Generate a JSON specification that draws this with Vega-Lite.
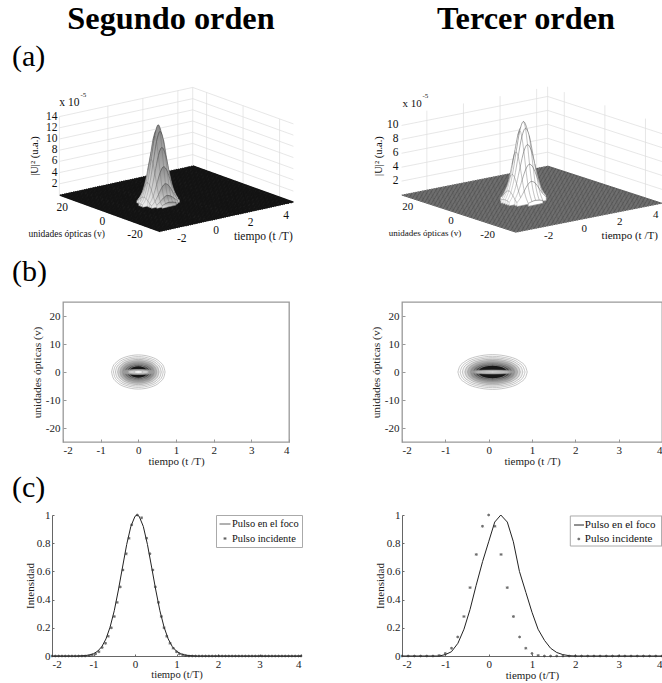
{"$schema":"https://vega.github.io/schema/vega-lite/v6.json","padding":0,"background":"#ffffff","config":{"font":"Liberation Serif","view":{"stroke":null},"text":{"color":"#111"},"title":{"color":"#000"}},
"datasets":{
"floorT":[{"t":-3.375},{"t":-3.25},{"t":-3.125},{"t":-3},{"t":-2.875},{"t":-2.75},{"t":-2.625},{"t":-2.5},{"t":-2.375},{"t":-2.25},{"t":-2.125},{"t":-2},{"t":-1.875},{"t":-1.75},{"t":-1.625},{"t":-1.5},{"t":-1.375},{"t":-1.25},{"t":-1.125},{"t":-1},{"t":-0.875},{"t":-0.75},{"t":-0.625},{"t":-0.5},{"t":-0.375},{"t":-0.25},{"t":-0.125},{"t":0},{"t":0.125},{"t":0.25},{"t":0.375},{"t":0.5},{"t":0.625},{"t":0.75},{"t":0.875},{"t":1},{"t":1.125},{"t":1.25},{"t":1.375},{"t":1.5},{"t":1.625},{"t":1.75},{"t":1.875},{"t":2},{"t":2.125},{"t":2.25},{"t":2.375},{"t":2.5},{"t":2.625},{"t":2.75},{"t":2.875},{"t":3},{"t":3.125},{"t":3.25},{"t":3.375},{"t":3.5},{"t":3.625},{"t":3.75},{"t":3.875},{"t":4},{"t":4.125},{"t":4.25},{"t":4.375},{"t":4.5},{"t":4.6},{"t":4.75},{"t":4.85}],
"floorV":[{"v":-28},{"v":-27},{"v":-26},{"v":-25},{"v":-24},{"v":-23},{"v":-22},{"v":-21},{"v":-20},{"v":-19},{"v":-18},{"v":-17},{"v":-16},{"v":-15},{"v":-14},{"v":-13},{"v":-12},{"v":-11},{"v":-10},{"v":-9},{"v":-8},{"v":-7},{"v":-6},{"v":-5},{"v":-4},{"v":-3},{"v":-2},{"v":-1},{"v":0},{"v":1},{"v":2},{"v":3},{"v":4},{"v":5},{"v":6},{"v":7},{"v":8},{"v":9},{"v":10},{"v":11},{"v":12},{"v":13},{"v":14},{"v":15},{"v":16},{"v":17},{"v":18},{"v":19},{"v":20},{"v":21},{"v":22},{"v":23},{"v":24},{"v":25},{"v":26},{"v":27},{"v":28}],
"peakL":[
{"t":-1.2,"v":6,"u":0.01},{"t":-1,"v":6,"u":0.02},{"t":-0.8,"v":6,"u":0.09},{"t":-0.6,"v":6,"u":0.22},{"t":-0.4,"v":6,"u":0.45},{"t":-0.2,"v":6,"u":0.68},{"t":0,"v":6,"u":0.78},{"t":0.2,"v":6,"u":0.68},{"t":0.4,"v":6,"u":0.45},{"t":0.6,"v":6,"u":0.22},{"t":0.8,"v":6,"u":0.09},{"t":1,"v":6,"u":0.02},{"t":1.2,"v":6,"u":0.01},
{"t":-1.2,"v":5,"u":0.01},{"t":-1,"v":5,"u":0.06},{"t":-0.8,"v":5,"u":0.21},{"t":-0.6,"v":5,"u":0.54},{"t":-0.4,"v":5,"u":1.08},{"t":-0.2,"v":5,"u":1.63},{"t":0,"v":5,"u":1.88},{"t":0.2,"v":5,"u":1.63},{"t":0.4,"v":5,"u":1.08},{"t":0.6,"v":5,"u":0.54},{"t":0.8,"v":5,"u":0.21},{"t":1,"v":5,"u":0.06},{"t":1.2,"v":5,"u":0.01},
{"t":-1.2,"v":4,"u":0.03},{"t":-1,"v":4,"u":0.12},{"t":-0.8,"v":4,"u":0.42},{"t":-0.6,"v":4,"u":1.11},{"t":-0.4,"v":4,"u":2.22},{"t":-0.2,"v":4,"u":3.36},{"t":0,"v":4,"u":3.86},{"t":0.2,"v":4,"u":3.36},{"t":0.4,"v":4,"u":2.22},{"t":0.6,"v":4,"u":1.11},{"t":0.8,"v":4,"u":0.42},{"t":1,"v":4,"u":0.12},{"t":1.2,"v":4,"u":0.03},
{"t":-1.2,"v":3,"u":0.05},{"t":-1,"v":3,"u":0.21},{"t":-0.8,"v":3,"u":0.74},{"t":-0.6,"v":3,"u":1.94},{"t":-0.4,"v":3,"u":3.89},{"t":-0.2,"v":3,"u":5.89},{"t":0,"v":3,"u":6.77},{"t":0.2,"v":3,"u":5.89},{"t":0.4,"v":3,"u":3.89},{"t":0.6,"v":3,"u":1.94},{"t":0.8,"v":3,"u":0.74},{"t":1,"v":3,"u":0.21},{"t":1.2,"v":3,"u":0.05},
{"t":-1.2,"v":2,"u":0.07},{"t":-1,"v":2,"u":0.31},{"t":-0.8,"v":2,"u":1.1},{"t":-0.6,"v":2,"u":2.9},{"t":-0.4,"v":2,"u":5.8},{"t":-0.2,"v":2,"u":8.78},{"t":0,"v":2,"u":10.09},{"t":0.2,"v":2,"u":8.78},{"t":0.4,"v":2,"u":5.8},{"t":0.6,"v":2,"u":2.9},{"t":0.8,"v":2,"u":1.1},{"t":1,"v":2,"u":0.31},{"t":1.2,"v":2,"u":0.07},
{"t":-1.2,"v":1,"u":0.09},{"t":-1,"v":1,"u":0.4},{"t":-0.8,"v":1,"u":1.4},{"t":-0.6,"v":1,"u":3.68},{"t":-0.4,"v":1,"u":7.37},{"t":-0.2,"v":1,"u":11.17},{"t":0,"v":1,"u":12.83},{"t":0.2,"v":1,"u":11.17},{"t":0.4,"v":1,"u":7.37},{"t":0.6,"v":1,"u":3.68},{"t":0.8,"v":1,"u":1.4},{"t":1,"v":1,"u":0.4},{"t":1.2,"v":1,"u":0.09},
{"t":-1.2,"v":0,"u":0.1},{"t":-1,"v":0,"u":0.43},{"t":-0.8,"v":0,"u":1.52},{"t":-0.6,"v":0,"u":3.99},{"t":-0.4,"v":0,"u":7.99},{"t":-0.2,"v":0,"u":12.1},{"t":0,"v":0,"u":13.9},{"t":0.2,"v":0,"u":12.1},{"t":0.4,"v":0,"u":7.99},{"t":0.6,"v":0,"u":3.99},{"t":0.8,"v":0,"u":1.52},{"t":1,"v":0,"u":0.43},{"t":1.2,"v":0,"u":0.1},
{"t":-1.2,"v":-1,"u":0.09},{"t":-1,"v":-1,"u":0.4},{"t":-0.8,"v":-1,"u":1.4},{"t":-0.6,"v":-1,"u":3.68},{"t":-0.4,"v":-1,"u":7.37},{"t":-0.2,"v":-1,"u":11.17},{"t":0,"v":-1,"u":12.83},{"t":0.2,"v":-1,"u":11.17},{"t":0.4,"v":-1,"u":7.37},{"t":0.6,"v":-1,"u":3.68},{"t":0.8,"v":-1,"u":1.4},{"t":1,"v":-1,"u":0.4},{"t":1.2,"v":-1,"u":0.09},
{"t":-1.2,"v":-2,"u":0.07},{"t":-1,"v":-2,"u":0.31},{"t":-0.8,"v":-2,"u":1.1},{"t":-0.6,"v":-2,"u":2.9},{"t":-0.4,"v":-2,"u":5.8},{"t":-0.2,"v":-2,"u":8.78},{"t":0,"v":-2,"u":10.09},{"t":0.2,"v":-2,"u":8.78},{"t":0.4,"v":-2,"u":5.8},{"t":0.6,"v":-2,"u":2.9},{"t":0.8,"v":-2,"u":1.1},{"t":1,"v":-2,"u":0.31},{"t":1.2,"v":-2,"u":0.07},
{"t":-1.2,"v":-3,"u":0.05},{"t":-1,"v":-3,"u":0.21},{"t":-0.8,"v":-3,"u":0.74},{"t":-0.6,"v":-3,"u":1.94},{"t":-0.4,"v":-3,"u":3.89},{"t":-0.2,"v":-3,"u":5.89},{"t":0,"v":-3,"u":6.77},{"t":0.2,"v":-3,"u":5.89},{"t":0.4,"v":-3,"u":3.89},{"t":0.6,"v":-3,"u":1.94},{"t":0.8,"v":-3,"u":0.74},{"t":1,"v":-3,"u":0.21},{"t":1.2,"v":-3,"u":0.05},
{"t":-1.2,"v":-4,"u":0.03},{"t":-1,"v":-4,"u":0.12},{"t":-0.8,"v":-4,"u":0.42},{"t":-0.6,"v":-4,"u":1.11},{"t":-0.4,"v":-4,"u":2.22},{"t":-0.2,"v":-4,"u":3.36},{"t":0,"v":-4,"u":3.86},{"t":0.2,"v":-4,"u":3.36},{"t":0.4,"v":-4,"u":2.22},{"t":0.6,"v":-4,"u":1.11},{"t":0.8,"v":-4,"u":0.42},{"t":1,"v":-4,"u":0.12},{"t":1.2,"v":-4,"u":0.03},
{"t":-1.2,"v":-5,"u":0.01},{"t":-1,"v":-5,"u":0.06},{"t":-0.8,"v":-5,"u":0.21},{"t":-0.6,"v":-5,"u":0.54},{"t":-0.4,"v":-5,"u":1.08},{"t":-0.2,"v":-5,"u":1.63},{"t":0,"v":-5,"u":1.88},{"t":0.2,"v":-5,"u":1.63},{"t":0.4,"v":-5,"u":1.08},{"t":0.6,"v":-5,"u":0.54},{"t":0.8,"v":-5,"u":0.21},{"t":1,"v":-5,"u":0.06},{"t":1.2,"v":-5,"u":0.01},
{"t":-1.2,"v":-6,"u":0.01},{"t":-1,"v":-6,"u":0.02},{"t":-0.8,"v":-6,"u":0.09},{"t":-0.6,"v":-6,"u":0.22},{"t":-0.4,"v":-6,"u":0.45},{"t":-0.2,"v":-6,"u":0.68},{"t":0,"v":-6,"u":0.78},{"t":0.2,"v":-6,"u":0.68},{"t":0.4,"v":-6,"u":0.45},{"t":0.6,"v":-6,"u":0.22},{"t":0.8,"v":-6,"u":0.09},{"t":1,"v":-6,"u":0.02},{"t":1.2,"v":-6,"u":0.01}],
"peakR":[
{"t":-1.25,"v":6,"u":0},{"t":-1.05,"v":6,"u":0.01},{"t":-0.85,"v":6,"u":0.04},{"t":-0.65,"v":6,"u":0.1},{"t":-0.45,"v":6,"u":0.23},{"t":-0.25,"v":6,"u":0.41},{"t":-0.05,"v":6,"u":0.57},{"t":0.15,"v":6,"u":0.64},{"t":0.35,"v":6,"u":0.57},{"t":0.55,"v":6,"u":0.41},{"t":0.75,"v":6,"u":0.23},{"t":0.95,"v":6,"u":0.1},{"t":1.15,"v":6,"u":0.04},{"t":1.35,"v":6,"u":0.01},{"t":1.55,"v":6,"u":0},
{"t":-1.25,"v":4,"u":0.01},{"t":-1.05,"v":4,"u":0.05},{"t":-0.85,"v":4,"u":0.19},{"t":-0.65,"v":4,"u":0.52},{"t":-0.45,"v":4,"u":1.14},{"t":-0.25,"v":4,"u":2.01},{"t":-0.05,"v":4,"u":2.83},{"t":0.15,"v":4,"u":3.17},{"t":0.35,"v":4,"u":2.83},{"t":0.55,"v":4,"u":2.01},{"t":0.75,"v":4,"u":1.14},{"t":0.95,"v":4,"u":0.52},{"t":1.15,"v":4,"u":0.19},{"t":1.35,"v":4,"u":0.05},{"t":1.55,"v":4,"u":0.01},
{"t":-1.25,"v":3,"u":0.02},{"t":-1.05,"v":3,"u":0.09},{"t":-0.85,"v":3,"u":0.33},{"t":-0.65,"v":3,"u":0.91},{"t":-0.45,"v":3,"u":2},{"t":-0.25,"v":3,"u":3.53},{"t":-0.05,"v":3,"u":4.96},{"t":0.15,"v":3,"u":5.55},{"t":0.35,"v":3,"u":4.96},{"t":0.55,"v":3,"u":3.53},{"t":0.75,"v":3,"u":2},{"t":0.95,"v":3,"u":0.91},{"t":1.15,"v":3,"u":0.33},{"t":1.35,"v":3,"u":0.09},{"t":1.55,"v":3,"u":0.02},
{"t":-1.25,"v":2,"u":0.04},{"t":-1.05,"v":2,"u":0.14},{"t":-0.85,"v":2,"u":0.49},{"t":-0.65,"v":2,"u":1.35},{"t":-0.45,"v":2,"u":2.98},{"t":-0.25,"v":2,"u":5.26},{"t":-0.05,"v":2,"u":7.39},{"t":0.15,"v":2,"u":8.28},{"t":0.35,"v":2,"u":7.39},{"t":0.55,"v":2,"u":5.26},{"t":0.75,"v":2,"u":2.98},{"t":0.95,"v":2,"u":1.35},{"t":1.15,"v":2,"u":0.49},{"t":1.35,"v":2,"u":0.14},{"t":1.55,"v":2,"u":0.04},
{"t":-1.25,"v":1,"u":0.05},{"t":-1.05,"v":1,"u":0.18},{"t":-0.85,"v":1,"u":0.62},{"t":-0.65,"v":1,"u":1.72},{"t":-0.45,"v":1,"u":3.78},{"t":-0.25,"v":1,"u":6.68},{"t":-0.05,"v":1,"u":9.4},{"t":0.15,"v":1,"u":10.52},{"t":0.35,"v":1,"u":9.4},{"t":0.55,"v":1,"u":6.68},{"t":0.75,"v":1,"u":3.78},{"t":0.95,"v":1,"u":1.72},{"t":1.15,"v":1,"u":0.62},{"t":1.35,"v":1,"u":0.18},{"t":1.55,"v":1,"u":0.05},
{"t":-1.25,"v":0,"u":0.05},{"t":-1.05,"v":0,"u":0.19},{"t":-0.85,"v":0,"u":0.67},{"t":-0.65,"v":0,"u":1.86},{"t":-0.45,"v":0,"u":4.1},{"t":-0.25,"v":0,"u":7.24},{"t":-0.05,"v":0,"u":10.18},{"t":0.15,"v":0,"u":11.4},{"t":0.35,"v":0,"u":10.18},{"t":0.55,"v":0,"u":7.24},{"t":0.75,"v":0,"u":4.1},{"t":0.95,"v":0,"u":1.86},{"t":1.15,"v":0,"u":0.67},{"t":1.35,"v":0,"u":0.19},{"t":1.55,"v":0,"u":0.05},
{"t":-1.25,"v":-1,"u":0.05},{"t":-1.05,"v":-1,"u":0.18},{"t":-0.85,"v":-1,"u":0.62},{"t":-0.65,"v":-1,"u":1.72},{"t":-0.45,"v":-1,"u":3.78},{"t":-0.25,"v":-1,"u":6.68},{"t":-0.05,"v":-1,"u":9.4},{"t":0.15,"v":-1,"u":10.52},{"t":0.35,"v":-1,"u":9.4},{"t":0.55,"v":-1,"u":6.68},{"t":0.75,"v":-1,"u":3.78},{"t":0.95,"v":-1,"u":1.72},{"t":1.15,"v":-1,"u":0.62},{"t":1.35,"v":-1,"u":0.18},{"t":1.55,"v":-1,"u":0.05},
{"t":-1.25,"v":-2,"u":0.04},{"t":-1.05,"v":-2,"u":0.14},{"t":-0.85,"v":-2,"u":0.49},{"t":-0.65,"v":-2,"u":1.35},{"t":-0.45,"v":-2,"u":2.98},{"t":-0.25,"v":-2,"u":5.26},{"t":-0.05,"v":-2,"u":7.39},{"t":0.15,"v":-2,"u":8.28},{"t":0.35,"v":-2,"u":7.39},{"t":0.55,"v":-2,"u":5.26},{"t":0.75,"v":-2,"u":2.98},{"t":0.95,"v":-2,"u":1.35},{"t":1.15,"v":-2,"u":0.49},{"t":1.35,"v":-2,"u":0.14},{"t":1.55,"v":-2,"u":0.04},
{"t":-1.25,"v":-3,"u":0.02},{"t":-1.05,"v":-3,"u":0.09},{"t":-0.85,"v":-3,"u":0.33},{"t":-0.65,"v":-3,"u":0.91},{"t":-0.45,"v":-3,"u":2},{"t":-0.25,"v":-3,"u":3.53},{"t":-0.05,"v":-3,"u":4.96},{"t":0.15,"v":-3,"u":5.55},{"t":0.35,"v":-3,"u":4.96},{"t":0.55,"v":-3,"u":3.53},{"t":0.75,"v":-3,"u":2},{"t":0.95,"v":-3,"u":0.91},{"t":1.15,"v":-3,"u":0.33},{"t":1.35,"v":-3,"u":0.09},{"t":1.55,"v":-3,"u":0.02},
{"t":-1.25,"v":-4,"u":0.01},{"t":-1.05,"v":-4,"u":0.05},{"t":-0.85,"v":-4,"u":0.19},{"t":-0.65,"v":-4,"u":0.52},{"t":-0.45,"v":-4,"u":1.14},{"t":-0.25,"v":-4,"u":2.01},{"t":-0.05,"v":-4,"u":2.83},{"t":0.15,"v":-4,"u":3.17},{"t":0.35,"v":-4,"u":2.83},{"t":0.55,"v":-4,"u":2.01},{"t":0.75,"v":-4,"u":1.14},{"t":0.95,"v":-4,"u":0.52},{"t":1.15,"v":-4,"u":0.19},{"t":1.35,"v":-4,"u":0.05},{"t":1.55,"v":-4,"u":0.01},
{"t":-1.25,"v":-6,"u":0},{"t":-1.05,"v":-6,"u":0.01},{"t":-0.85,"v":-6,"u":0.04},{"t":-0.65,"v":-6,"u":0.1},{"t":-0.45,"v":-6,"u":0.23},{"t":-0.25,"v":-6,"u":0.41},{"t":-0.05,"v":-6,"u":0.57},{"t":0.15,"v":-6,"u":0.64},{"t":0.35,"v":-6,"u":0.57},{"t":0.55,"v":-6,"u":0.41},{"t":0.75,"v":-6,"u":0.23},{"t":0.95,"v":-6,"u":0.1},{"t":1.15,"v":-6,"u":0.04},{"t":1.35,"v":-6,"u":0.01},{"t":1.55,"v":-6,"u":0}],
"contL":[
{"k":1,"t":-0.71,"h":0,"l":0},{"k":1,"t":-0.675,"h":1.9,"l":-1.9},{"k":1,"t":-0.568,"h":3.66,"l":-3.66},{"k":1,"t":-0.355,"h":5.28,"l":-5.28},{"k":1,"t":0,"h":6.1,"l":-6.1},{"k":1,"t":0.355,"h":5.28,"l":-5.28},{"k":1,"t":0.568,"h":3.66,"l":-3.66},{"k":1,"t":0.675,"h":1.9,"l":-1.9},{"k":1,"t":0.71,"h":0,"l":0},
{"k":2,"t":-0.66,"h":0,"l":0},{"k":2,"t":-0.627,"h":1.72,"l":-1.72},{"k":2,"t":-0.528,"h":3.3,"l":-3.3},{"k":2,"t":-0.33,"h":4.76,"l":-4.76},{"k":2,"t":0,"h":5.5,"l":-5.5},{"k":2,"t":0.33,"h":4.76,"l":-4.76},{"k":2,"t":0.528,"h":3.3,"l":-3.3},{"k":2,"t":0.627,"h":1.72,"l":-1.72},{"k":2,"t":0.66,"h":0,"l":0},
{"k":3,"t":-0.61,"h":0,"l":0},{"k":3,"t":-0.58,"h":1.56,"l":-1.56},{"k":3,"t":-0.488,"h":3,"l":-3},{"k":3,"t":-0.305,"h":4.33,"l":-4.33},{"k":3,"t":0,"h":5,"l":-5},{"k":3,"t":0.305,"h":4.33,"l":-4.33},{"k":3,"t":0.488,"h":3,"l":-3},{"k":3,"t":0.58,"h":1.56,"l":-1.56},{"k":3,"t":0.61,"h":0,"l":0},
{"k":4,"t":-0.55,"h":0,"l":0},{"k":4,"t":-0.523,"h":1.4,"l":-1.4},{"k":4,"t":-0.44,"h":2.7,"l":-2.7},{"k":4,"t":-0.275,"h":3.9,"l":-3.9},{"k":4,"t":0,"h":4.5,"l":-4.5},{"k":4,"t":0.275,"h":3.9,"l":-3.9},{"k":4,"t":0.44,"h":2.7,"l":-2.7},{"k":4,"t":0.523,"h":1.4,"l":-1.4},{"k":4,"t":0.55,"h":0,"l":0},
{"k":5,"t":-0.49,"h":0,"l":0},{"k":5,"t":-0.466,"h":1.25,"l":-1.25},{"k":5,"t":-0.392,"h":2.4,"l":-2.4},{"k":5,"t":-0.245,"h":3.46,"l":-3.46},{"k":5,"t":0,"h":4,"l":-4},{"k":5,"t":0.245,"h":3.46,"l":-3.46},{"k":5,"t":0.392,"h":2.4,"l":-2.4},{"k":5,"t":0.466,"h":1.25,"l":-1.25},{"k":5,"t":0.49,"h":0,"l":0},
{"k":6,"t":-0.43,"h":0,"l":0},{"k":6,"t":-0.409,"h":1.09,"l":-1.09},{"k":6,"t":-0.344,"h":2.1,"l":-2.1},{"k":6,"t":-0.215,"h":3.03,"l":-3.03},{"k":6,"t":0,"h":3.5,"l":-3.5},{"k":6,"t":0.215,"h":3.03,"l":-3.03},{"k":6,"t":0.344,"h":2.1,"l":-2.1},{"k":6,"t":0.409,"h":1.09,"l":-1.09},{"k":6,"t":0.43,"h":0,"l":0},
{"k":7,"t":-0.37,"h":0,"l":0},{"k":7,"t":-0.352,"h":0.94,"l":-0.94},{"k":7,"t":-0.296,"h":1.8,"l":-1.8},{"k":7,"t":-0.185,"h":2.6,"l":-2.6},{"k":7,"t":0,"h":3,"l":-3},{"k":7,"t":0.185,"h":2.6,"l":-2.6},{"k":7,"t":0.296,"h":1.8,"l":-1.8},{"k":7,"t":0.352,"h":0.94,"l":-0.94},{"k":7,"t":0.37,"h":0,"l":0},
{"k":8,"t":-0.31,"h":0,"l":0},{"k":8,"t":-0.295,"h":0.81,"l":-0.81},{"k":8,"t":-0.248,"h":1.56,"l":-1.56},{"k":8,"t":-0.155,"h":2.25,"l":-2.25},{"k":8,"t":0,"h":2.6,"l":-2.6},{"k":8,"t":0.155,"h":2.25,"l":-2.25},{"k":8,"t":0.248,"h":1.56,"l":-1.56},{"k":8,"t":0.295,"h":0.81,"l":-0.81},{"k":8,"t":0.31,"h":0,"l":0},
{"k":9,"t":-0.25,"h":0,"l":0},{"k":9,"t":-0.238,"h":0.69,"l":-0.69},{"k":9,"t":-0.2,"h":1.32,"l":-1.32},{"k":9,"t":-0.125,"h":1.91,"l":-1.91},{"k":9,"t":0,"h":2.2,"l":-2.2},{"k":9,"t":0.125,"h":1.91,"l":-1.91},{"k":9,"t":0.2,"h":1.32,"l":-1.32},{"k":9,"t":0.238,"h":0.69,"l":-0.69},{"k":9,"t":0.25,"h":0,"l":0},
{"k":10,"t":-0.42,"h":0,"l":0},{"k":10,"t":-0.4,"h":0.28,"l":-0.28},{"k":10,"t":-0.336,"h":0.54,"l":-0.54},{"k":10,"t":-0.21,"h":0.78,"l":-0.78},{"k":10,"t":0,"h":0.9,"l":-0.9},{"k":10,"t":0.21,"h":0.78,"l":-0.78},{"k":10,"t":0.336,"h":0.54,"l":-0.54},{"k":10,"t":0.4,"h":0.28,"l":-0.28},{"k":10,"t":0.42,"h":0,"l":0},
{"k":11,"t":-0.28,"h":0,"l":0},{"k":11,"t":-0.266,"h":0.22,"l":-0.22},{"k":11,"t":-0.224,"h":0.42,"l":-0.42},{"k":11,"t":-0.14,"h":0.61,"l":-0.61},{"k":11,"t":0,"h":0.7,"l":-0.7},{"k":11,"t":0.14,"h":0.61,"l":-0.61},{"k":11,"t":0.224,"h":0.42,"l":-0.42},{"k":11,"t":0.266,"h":0.22,"l":-0.22},{"k":11,"t":0.28,"h":0,"l":0},
{"k":12,"t":-0.12,"h":0,"l":0},{"k":12,"t":-0.114,"h":0.14,"l":-0.14},{"k":12,"t":-0.096,"h":0.27,"l":-0.27},{"k":12,"t":-0.06,"h":0.39,"l":-0.39},{"k":12,"t":0,"h":0.45,"l":-0.45},{"k":12,"t":0.06,"h":0.39,"l":-0.39},{"k":12,"t":0.096,"h":0.27,"l":-0.27},{"k":12,"t":0.114,"h":0.14,"l":-0.14},{"k":12,"t":0.12,"h":0,"l":0}],
"contR":[
{"k":1,"t":-0.71,"h":0,"l":0},{"k":1,"t":-0.67,"h":1.93,"l":-1.93},{"k":1,"t":-0.55,"h":3.72,"l":-3.72},{"k":1,"t":-0.31,"h":5.37,"l":-5.37},{"k":1,"t":0.09,"h":6.2,"l":-6.2},{"k":1,"t":0.49,"h":5.37,"l":-5.37},{"k":1,"t":0.73,"h":3.72,"l":-3.72},{"k":1,"t":0.85,"h":1.93,"l":-1.93},{"k":1,"t":0.89,"h":0,"l":0},
{"k":2,"t":-0.66,"h":0,"l":0},{"k":2,"t":-0.62,"h":1.75,"l":-1.75},{"k":2,"t":-0.51,"h":3.36,"l":-3.36},{"k":2,"t":-0.285,"h":4.85,"l":-4.85},{"k":2,"t":0.09,"h":5.6,"l":-5.6},{"k":2,"t":0.465,"h":4.85,"l":-4.85},{"k":2,"t":0.69,"h":3.36,"l":-3.36},{"k":2,"t":0.8,"h":1.75,"l":-1.75},{"k":2,"t":0.84,"h":0,"l":0},
{"k":3,"t":-0.61,"h":0,"l":0},{"k":3,"t":-0.575,"h":1.59,"l":-1.59},{"k":3,"t":-0.47,"h":3.06,"l":-3.06},{"k":3,"t":-0.26,"h":4.42,"l":-4.42},{"k":3,"t":0.09,"h":5.1,"l":-5.1},{"k":3,"t":0.44,"h":4.42,"l":-4.42},{"k":3,"t":0.65,"h":3.06,"l":-3.06},{"k":3,"t":0.755,"h":1.59,"l":-1.59},{"k":3,"t":0.79,"h":0,"l":0},
{"k":4,"t":-0.55,"h":0,"l":0},{"k":4,"t":-0.518,"h":1.44,"l":-1.44},{"k":4,"t":-0.422,"h":2.76,"l":-2.76},{"k":4,"t":-0.23,"h":3.98,"l":-3.98},{"k":4,"t":0.09,"h":4.6,"l":-4.6},{"k":4,"t":0.41,"h":3.98,"l":-3.98},{"k":4,"t":0.602,"h":2.76,"l":-2.76},{"k":4,"t":0.698,"h":1.44,"l":-1.44},{"k":4,"t":0.73,"h":0,"l":0},
{"k":5,"t":-0.49,"h":0,"l":0},{"k":5,"t":-0.461,"h":1.28,"l":-1.28},{"k":5,"t":-0.374,"h":2.46,"l":-2.46},{"k":5,"t":-0.2,"h":3.55,"l":-3.55},{"k":5,"t":0.09,"h":4.1,"l":-4.1},{"k":5,"t":0.38,"h":3.55,"l":-3.55},{"k":5,"t":0.554,"h":2.46,"l":-2.46},{"k":5,"t":0.641,"h":1.28,"l":-1.28},{"k":5,"t":0.67,"h":0,"l":0},
{"k":6,"t":-0.43,"h":0,"l":0},{"k":6,"t":-0.404,"h":1.12,"l":-1.12},{"k":6,"t":-0.326,"h":2.16,"l":-2.16},{"k":6,"t":-0.17,"h":3.12,"l":-3.12},{"k":6,"t":0.09,"h":3.6,"l":-3.6},{"k":6,"t":0.35,"h":3.12,"l":-3.12},{"k":6,"t":0.506,"h":2.16,"l":-2.16},{"k":6,"t":0.584,"h":1.12,"l":-1.12},{"k":6,"t":0.61,"h":0,"l":0},
{"k":7,"t":-0.37,"h":0,"l":0},{"k":7,"t":-0.347,"h":1,"l":-1},{"k":7,"t":-0.278,"h":1.92,"l":-1.92},{"k":7,"t":-0.14,"h":2.77,"l":-2.77},{"k":7,"t":0.09,"h":3.2,"l":-3.2},{"k":7,"t":0.32,"h":2.77,"l":-2.77},{"k":7,"t":0.458,"h":1.92,"l":-1.92},{"k":7,"t":0.527,"h":1,"l":-1},{"k":7,"t":0.55,"h":0,"l":0},
{"k":8,"t":-0.31,"h":0,"l":0},{"k":8,"t":-0.29,"h":0.87,"l":-0.87},{"k":8,"t":-0.23,"h":1.68,"l":-1.68},{"k":8,"t":-0.11,"h":2.42,"l":-2.42},{"k":8,"t":0.09,"h":2.8,"l":-2.8},{"k":8,"t":0.29,"h":2.42,"l":-2.42},{"k":8,"t":0.41,"h":1.68,"l":-1.68},{"k":8,"t":0.47,"h":0.87,"l":-0.87},{"k":8,"t":0.49,"h":0,"l":0},
{"k":9,"t":-0.25,"h":0,"l":0},{"k":9,"t":-0.233,"h":0.75,"l":-0.75},{"k":9,"t":-0.182,"h":1.44,"l":-1.44},{"k":9,"t":-0.08,"h":2.08,"l":-2.08},{"k":9,"t":0.09,"h":2.4,"l":-2.4},{"k":9,"t":0.26,"h":2.08,"l":-2.08},{"k":9,"t":0.362,"h":1.44,"l":-1.44},{"k":9,"t":0.413,"h":0.75,"l":-0.75},{"k":9,"t":0.43,"h":0,"l":0},
{"k":10,"t":-0.41,"h":0,"l":0},{"k":10,"t":-0.385,"h":0.22,"l":-0.22},{"k":10,"t":-0.31,"h":0.42,"l":-0.42},{"k":10,"t":-0.16,"h":0.61,"l":-0.61},{"k":10,"t":0.09,"h":0.7,"l":-0.7},{"k":10,"t":0.34,"h":0.61,"l":-0.61},{"k":10,"t":0.49,"h":0.42,"l":-0.42},{"k":10,"t":0.565,"h":0.22,"l":-0.22},{"k":10,"t":0.59,"h":0,"l":0},
{"k":11,"t":-0.31,"h":0,"l":0},{"k":11,"t":-0.29,"h":0.16,"l":-0.16},{"k":11,"t":-0.23,"h":0.3,"l":-0.3},{"k":11,"t":-0.11,"h":0.43,"l":-0.43},{"k":11,"t":0.09,"h":0.5,"l":-0.5},{"k":11,"t":0.29,"h":0.43,"l":-0.43},{"k":11,"t":0.41,"h":0.3,"l":-0.3},{"k":11,"t":0.47,"h":0.16,"l":-0.16},{"k":11,"t":0.49,"h":0,"l":0},
{"k":12,"t":-0.21,"h":0,"l":0},{"k":12,"t":-0.195,"h":0.08,"l":-0.08},{"k":12,"t":-0.15,"h":0.15,"l":-0.15},{"k":12,"t":-0.06,"h":0.22,"l":-0.22},{"k":12,"t":0.09,"h":0.25,"l":-0.25},{"k":12,"t":0.24,"h":0.22,"l":-0.22},{"k":12,"t":0.33,"h":0.15,"l":-0.15},{"k":12,"t":0.375,"h":0.08,"l":-0.08},{"k":12,"t":0.39,"h":0,"l":0}]
},
"vconcat":[
{"hconcat":[
{"width":60,"height":85,"data":{"values":[]},"mark":"point","encoding":{},"title":{"text":"(a)","anchor":"start","frame":"group","dx":12,"offset":-72,"fontSize":30,"fontWeight":"normal"}},
{"width":222,"height":85,"data":{"values":[]},"mark":"point","encoding":{},"title":{"text":"Segundo orden","anchor":"middle","frame":"group","offset":-35,"fontSize":32.3,"fontWeight":"bold"}},
{"width":380,"height":85,"data":{"values":[]},"mark":"point","encoding":{},"title":{"text":"Tercer orden","anchor":"middle","frame":"group","dx":54,"offset":-35,"fontSize":32.3,"fontWeight":"bold"}}
],"spacing":0,"bounds":"flush"},
{"hconcat":[
{"width":331,"height":155,
"encoding":{"x":{"field":"sx","type":"quantitative","axis":null,"scale":{"domain":[0,331],"nice":false,"zero":false}},"y":{"field":"sy","type":"quantitative","axis":null,"scale":{"domain":[155,0],"nice":false,"zero":false}}},
"layer":[
{"data":{"values":[
{"t":-2.77,"v":27.6,"u":2,"t2":4.85,"v2":27.6,"u2":2},{"t":-2.77,"v":27.6,"u":4,"t2":4.85,"v2":27.6,"u2":4},{"t":-2.77,"v":27.6,"u":6,"t2":4.85,"v2":27.6,"u2":6},{"t":-2.77,"v":27.6,"u":8,"t2":4.85,"v2":27.6,"u2":8},{"t":-2.77,"v":27.6,"u":10,"t2":4.85,"v2":27.6,"u2":10},{"t":-2.77,"v":27.6,"u":12,"t2":4.85,"v2":27.6,"u2":12},{"t":-2.77,"v":27.6,"u":14,"t2":4.85,"v2":27.6,"u2":14},
{"t":4.85,"v":27.6,"u":2,"t2":4.85,"v2":-27.6,"u2":2},{"t":4.85,"v":27.6,"u":4,"t2":4.85,"v2":-27.6,"u2":4},{"t":4.85,"v":27.6,"u":6,"t2":4.85,"v2":-27.6,"u2":6},{"t":4.85,"v":27.6,"u":8,"t2":4.85,"v2":-27.6,"u2":8},{"t":4.85,"v":27.6,"u":10,"t2":4.85,"v2":-27.6,"u2":10},{"t":4.85,"v":27.6,"u":12,"t2":4.85,"v2":-27.6,"u2":12},{"t":4.85,"v":27.6,"u":14,"t2":4.85,"v2":-27.6,"u2":14},
{"t":0,"v":27.6,"u":0,"t2":0,"v2":27.6,"u2":14},{"t":2,"v":27.6,"u":0,"t2":2,"v2":27.6,"u2":14},{"t":4,"v":27.6,"u":0,"t2":4,"v2":27.6,"u2":14},{"t":4.85,"v":27.6,"u":0,"t2":4.85,"v2":27.6,"u2":14},{"t":-2.77,"v":27.6,"u":0,"t2":-2.77,"v2":27.6,"u2":14},
{"t":4.85,"v":20,"u":0,"t2":4.85,"v2":20,"u2":14},{"t":4.85,"v":0,"u":0,"t2":4.85,"v2":0,"u2":14},{"t":4.85,"v":-20,"u":0,"t2":4.85,"v2":-20,"u2":14}]},
"transform":[{"calculate":"158.2+17.5*datum.t-1.824*datum.v","as":"sx"},{"calculate":"117.65-3.83*datum.t-0.661*datum.v-5.6*datum.u","as":"sy"},{"calculate":"158.2+17.5*datum.t2-1.824*datum.v2","as":"sx2"},{"calculate":"117.65-3.83*datum.t2-0.661*datum.v2-5.6*datum.u2","as":"sy2"}],
"mark":{"type":"rule","stroke":"#dddddd","strokeWidth":0.7},"encoding":{"x2":{"field":"sx2"},"y2":{"field":"sy2"}}},
{"data":{"name":"floorT"},"transform":[{"filter":"datum.t>=-2.77&&datum.t<=4.85"},{"calculate":"158.2+17.5*datum.t+1.824*27.6","as":"sx"},{"calculate":"117.65-3.83*datum.t+0.661*27.6","as":"sy"},{"calculate":"158.2+17.5*datum.t-1.824*27.6","as":"sx2"},{"calculate":"117.65-3.83*datum.t-0.661*27.6","as":"sy2"}],
"mark":{"type":"rule","stroke":"#141414","strokeWidth":1.5},"encoding":{"x2":{"field":"sx2"},"y2":{"field":"sy2"}}},
{"data":{"name":"floorV"},"transform":[{"filter":"abs(datum.v)<=27"},{"calculate":"158.2+17.5*(-2.77)-1.824*datum.v","as":"sx"},{"calculate":"117.65-3.83*(-2.77)-0.661*datum.v","as":"sy"},{"calculate":"158.2+17.5*4.85-1.824*datum.v","as":"sx2"},{"calculate":"117.65-3.83*4.85-0.661*datum.v","as":"sy2"}],
"mark":{"type":"rule","stroke":"#141414","strokeWidth":1.2},"encoding":{"x2":{"field":"sx2"},"y2":{"field":"sy2"}}},
{"data":{"name":"peakL"},"transform":[{"filter":"datum.u>=0.4"},{"calculate":"158.2+17.5*datum.t-1.824*datum.v","as":"sx"},{"calculate":"117.65-3.83*datum.t-0.661*datum.v-5.6*datum.u","as":"sy"},{"calculate":"117.65-3.83*datum.t-0.661*datum.v","as":"sy2"}],
"mark":{"type":"area","fill":{"gradient":"linear","x1":0,"y1":0,"x2":0,"y2":1,"stops":[{"offset":0,"color":"#8c8c8c"},{"offset":1,"color":"#ededed"}]},"stroke":{"gradient":"linear","x1":0,"y1":0,"x2":0,"y2":1,"stops":[{"offset":0,"color":"#2e2e2e"},{"offset":1,"color":"#b4b4b4"}]},"strokeWidth":0.55,"interpolate":"monotone"},"encoding":{"y2":{"field":"sy2"},"detail":{"field":"v","type":"nominal"}}},
{"data":{"name":"peakL"},"transform":[{"filter":"datum.v+4.5*datum.t<0.5&&datum.u>=0.4"},{"calculate":"158.2+17.5*datum.t-1.824*datum.v","as":"sx"},{"calculate":"117.65-3.83*datum.t-0.661*datum.v-5.6*datum.u","as":"sy"}],
"mark":{"type":"line","stroke":"#666666","strokeWidth":0.35,"interpolate":"monotone"},"encoding":{"detail":{"field":"t","type":"nominal"}}},
{"data":{"values":[
{"t":-2,"v":-32.07,"u":-1.39,"label":"-2"},{"t":0,"v":-31.69,"u":-1.27,"label":"0"},{"t":2,"v":-31.52,"u":-1.23,"label":"2"},{"t":4,"v":-31.69,"u":-1.38,"label":"4"},
{"t":-3.395,"v":20,"u":-1.05,"label":"20"},{"t":-3.194,"v":0,"u":-1.22,"label":"0"},{"t":-3.41,"v":-20,"u":-1.14,"label":"-20"},
{"t":2.88,"v":-30,"u":-4.6,"label":"tiempo (t /T)"},{"t":-2.2,"v":27.6,"u":15.99,"label":"x 10"}]},
"transform":[{"calculate":"158.2+17.5*datum.t-1.824*datum.v","as":"sx"},{"calculate":"117.65-3.83*datum.t-0.661*datum.v-5.6*datum.u","as":"sy"}],
"mark":{"type":"text","fontSize":11.5,"align":"center","baseline":"middle"},"encoding":{"text":{"field":"label"}}},
{"data":{"values":[{"t":-2.77,"v":27.6,"u":2,"label":"2"},{"t":-2.77,"v":27.6,"u":4,"label":"4"},{"t":-2.77,"v":27.6,"u":6,"label":"6"},{"t":-2.77,"v":27.6,"u":8,"label":"8"},{"t":-2.77,"v":27.6,"u":10,"label":"10"},{"t":-2.77,"v":27.6,"u":12,"label":"12"},{"t":-2.77,"v":27.6,"u":14,"label":"14"}]},
"transform":[{"calculate":"158.2+17.5*datum.t-1.824*datum.v","as":"sx"},{"calculate":"117.65-3.83*datum.t-0.661*datum.v-5.6*datum.u","as":"sy"}],
"mark":{"type":"text","fontSize":11.5,"align":"right","baseline":"middle","dx":-2},"encoding":{"text":{"field":"label"}}},
{"data":{"values":[{"t":-3,"v":21.4,"u":-6.07,"label":"unidades ópticas (v)"}]},
"transform":[{"calculate":"158.2+17.5*datum.t-1.824*datum.v","as":"sx"},{"calculate":"117.65-3.83*datum.t-0.661*datum.v-5.6*datum.u","as":"sy"}],
"mark":{"type":"text","fontSize":9.5,"align":"center","baseline":"middle"},"encoding":{"text":{"field":"label"}}},
{"data":{"values":[{"t":-1.4,"v":27.6,"u":16.92,"label":"-5"}]},
"transform":[{"calculate":"158.2+17.5*datum.t-1.824*datum.v","as":"sx"},{"calculate":"117.65-3.83*datum.t-0.661*datum.v-5.6*datum.u","as":"sy"}],
"mark":{"type":"text","fontSize":7,"align":"center","baseline":"middle"},"encoding":{"text":{"field":"label"}}},
{"data":{"values":[{"t":-4.16,"v":27.6,"u":7.92,"label":"|U|² (u.a.)"}]},
"transform":[{"calculate":"158.2+17.5*datum.t-1.824*datum.v","as":"sx"},{"calculate":"117.65-3.83*datum.t-0.661*datum.v-5.6*datum.u","as":"sy"}],
"mark":{"type":"text","fontSize":10.5,"align":"center","baseline":"middle","angle":270},"encoding":{"text":{"field":"label"}}}
]},
{"width":331,"height":155,
"encoding":{"x":{"field":"sx","type":"quantitative","axis":null,"scale":{"domain":[0,331],"nice":false,"zero":false}},"y":{"field":"sy","type":"quantitative","axis":null,"scale":{"domain":[155,0],"nice":false,"zero":false}}},
"layer":[
{"data":{"values":[
{"t":-3.38,"v":28.2,"u":2,"t2":4.6,"v2":28.2,"u2":2},{"t":-3.38,"v":28.2,"u":4,"t2":4.6,"v2":28.2,"u2":4},{"t":-3.38,"v":28.2,"u":6,"t2":4.6,"v2":28.2,"u2":6},{"t":-3.38,"v":28.2,"u":8,"t2":4.6,"v2":28.2,"u2":8},{"t":-3.38,"v":28.2,"u":10,"t2":4.6,"v2":28.2,"u2":10},
{"t":4.6,"v":28.2,"u":2,"t2":4.6,"v2":-28.2,"u2":2},{"t":4.6,"v":28.2,"u":4,"t2":4.6,"v2":-28.2,"u2":4},{"t":4.6,"v":28.2,"u":6,"t2":4.6,"v2":-28.2,"u2":6},{"t":4.6,"v":28.2,"u":8,"t2":4.6,"v2":-28.2,"u2":8},{"t":4.6,"v":28.2,"u":10,"t2":4.6,"v2":-28.2,"u2":10},
{"t":-2,"v":28.2,"u":0,"t2":-2,"v2":28.2,"u2":11.4},{"t":0,"v":28.2,"u":0,"t2":0,"v2":28.2,"u2":11.4},{"t":2,"v":28.2,"u":0,"t2":2,"v2":28.2,"u2":11.4},{"t":4,"v":28.2,"u":0,"t2":4,"v2":28.2,"u2":11.4},{"t":4.6,"v":28.2,"u":0,"t2":4.6,"v2":28.2,"u2":11.4},
{"t":4.6,"v":20,"u":0,"t2":4.6,"v2":20,"u2":11.4},{"t":4.6,"v":0,"u":0,"t2":4.6,"v2":0,"u2":11.4},{"t":4.6,"v":-20,"u":0,"t2":4.6,"v2":-20,"u2":11.4}]},
"transform":[{"calculate":"189.7+18.3*datum.t-2.03*datum.v","as":"sx"},{"calculate":"116.4-3.63*datum.t-0.661*datum.v-6.96*datum.u","as":"sy"},{"calculate":"189.7+18.3*datum.t2-2.03*datum.v2","as":"sx2"},{"calculate":"116.4-3.63*datum.t2-0.661*datum.v2-6.96*datum.u2","as":"sy2"}],
"mark":{"type":"rule","stroke":"#dddddd","strokeWidth":0.7},"encoding":{"x2":{"field":"sx2"},"y2":{"field":"sy2"}}},
{"data":{"name":"floorT"},"transform":[{"filter":"datum.t<=4.6"},{"calculate":"189.7+18.3*datum.t+2.03*28.2","as":"sx"},{"calculate":"116.4-3.63*datum.t+0.661*28.2","as":"sy"},{"calculate":"189.7+18.3*datum.t-2.03*28.2","as":"sx2"},{"calculate":"116.4-3.63*datum.t-0.661*28.2","as":"sy2"}],
"mark":{"type":"rule","stroke":"#444444","strokeWidth":0.8},"encoding":{"x2":{"field":"sx2"},"y2":{"field":"sy2"}}},
{"data":{"name":"floorV"},"transform":[{"calculate":"189.7+18.3*(-3.38)-2.03*datum.v","as":"sx"},{"calculate":"116.4-3.63*(-3.38)-0.661*datum.v","as":"sy"},{"calculate":"189.7+18.3*4.6-2.03*datum.v","as":"sx2"},{"calculate":"116.4-3.63*4.6-0.661*datum.v","as":"sy2"}],
"mark":{"type":"rule","stroke":"#444444","strokeWidth":0.6},"encoding":{"x2":{"field":"sx2"},"y2":{"field":"sy2"}}},
{"data":{"name":"peakR"},"transform":[{"filter":"datum.u>=0.35"},{"calculate":"189.7+18.3*datum.t-2.03*datum.v","as":"sx"},{"calculate":"116.4-3.63*datum.t-0.661*datum.v-6.96*datum.u","as":"sy"},{"calculate":"116.4-3.63*datum.t-0.661*datum.v","as":"sy2"}],
"mark":{"type":"area","fill":"#ffffff","stroke":{"gradient":"linear","x1":0,"y1":0,"x2":0,"y2":1,"stops":[{"offset":0,"color":"#3a3a3a"},{"offset":1,"color":"#bbbbbb"}]},"strokeWidth":0.5,"interpolate":"monotone"},"encoding":{"y2":{"field":"sy2"},"detail":{"field":"v","type":"nominal"}}},
{"data":{"name":"peakR"},"transform":[{"filter":"datum.v+4.5*(datum.t-0.15)<0.5&&datum.u>=0.35"},{"calculate":"189.7+18.3*datum.t-2.03*datum.v","as":"sx"},{"calculate":"116.4-3.63*datum.t-0.661*datum.v-6.96*datum.u","as":"sy"}],
"mark":{"type":"line","stroke":"#666666","strokeWidth":0.4,"interpolate":"monotone"},"encoding":{"detail":{"field":"t","type":"nominal"}}},
{"data":{"values":[
{"t":-2,"v":-31.82,"u":-0.86,"label":"-2"},{"t":0,"v":-31.33,"u":-0.95,"label":"0"},{"t":2,"v":-30.74,"u":-1.13,"label":"2"},{"t":4,"v":-30.44,"u":-1.15,"label":"4"},
{"t":-3.956,"v":20,"u":-0.68,"label":"20"},{"t":-3.809,"v":0,"u":-0.87,"label":"0"},{"t":-4.022,"v":-20,"u":-0.83,"label":"-20"},
{"t":2.63,"v":-30,"u":-3.46,"label":"tiempo (t /T)"},{"t":-2.81,"v":28.2,"u":12.78,"label":"x 10"}]},
"transform":[{"calculate":"189.7+18.3*datum.t-2.03*datum.v","as":"sx"},{"calculate":"116.4-3.63*datum.t-0.661*datum.v-6.96*datum.u","as":"sy"}],
"mark":{"type":"text","fontSize":11,"align":"center","baseline":"middle"},"encoding":{"text":{"field":"label"}}},
{"data":{"values":[{"t":-3.38,"v":28.2,"u":2,"label":"2"},{"t":-3.38,"v":28.2,"u":4,"label":"4"},{"t":-3.38,"v":28.2,"u":6,"label":"6"},{"t":-3.38,"v":28.2,"u":8,"label":"8"},{"t":-3.38,"v":28.2,"u":10,"label":"10"}]},
"transform":[{"calculate":"189.7+18.3*datum.t-2.03*datum.v","as":"sx"},{"calculate":"116.4-3.63*datum.t-0.661*datum.v-6.96*datum.u","as":"sy"}],
"mark":{"type":"text","fontSize":11.5,"align":"right","baseline":"middle","dx":-3},"encoding":{"text":{"field":"label"}}},
{"data":{"values":[{"t":-3.5,"v":15.59,"u":-4.15,"label":"unidades ópticas (v)"}]},
"transform":[{"calculate":"189.7+18.3*datum.t-2.03*datum.v","as":"sx"},{"calculate":"116.4-3.63*datum.t-0.661*datum.v-6.96*datum.u","as":"sy"}],
"mark":{"type":"text","fontSize":9,"align":"center","baseline":"middle"},"encoding":{"text":{"field":"label"}}},
{"data":{"values":[{"t":-2.085,"v":28.2,"u":13.6,"label":"-5"}]},
"transform":[{"calculate":"189.7+18.3*datum.t-2.03*datum.v","as":"sx"},{"calculate":"116.4-3.63*datum.t-0.661*datum.v-6.96*datum.u","as":"sy"}],
"mark":{"type":"text","fontSize":7,"align":"center","baseline":"middle"},"encoding":{"text":{"field":"label"}}},
{"data":{"values":[{"t":-4.6,"v":28.2,"u":6.24,"label":"|U|² (u.a.)"}]},
"transform":[{"calculate":"189.7+18.3*datum.t-2.03*datum.v","as":"sx"},{"calculate":"116.4-3.63*datum.t-0.661*datum.v-6.96*datum.u","as":"sy"}],
"mark":{"type":"text","fontSize":10.5,"align":"center","baseline":"middle","angle":270},"encoding":{"text":{"field":"label"}}}
]}
],"spacing":0,"bounds":"flush"},
{"width":100,"height":56,"data":{"values":[]},"mark":"point","encoding":{},"title":{"text":"(b)","anchor":"start","frame":"group","dx":12,"offset":-42,"fontSize":30,"fontWeight":"normal"}},
{"hconcat":[
{"width":63,"height":140,"data":{"values":[]},"mark":"point","encoding":{}},
{"width":226,"height":140,"view":{"stroke":"#999999","strokeWidth":1.3},"data":{"name":"contL"},"mark":{"type":"area","stroke":"#a0a0a0","strokeWidth":0.6,"interpolate":"monotone"},
"encoding":{"x":{"field":"t","type":"quantitative","title":"tiempo (t /T)","scale":{"domain":[-2,4],"nice":false,"zero":false},"axis":{"values":[-2,-1,0,1,2,3,4],"labelExpr":"''+datum.value","grid":false,"domain":false,"tickColor":"#999","tickSize":-3,"labelPadding":5,"labelFontSize":11,"titleFontSize":11,"titleFontWeight":"normal","titlePadding":0,"labelColor":"#222","titleColor":"#222"}},
"y":{"field":"h","type":"quantitative","title":"unidades ópticas (v)","scale":{"domain":[-25,25],"nice":false,"zero":false},"axis":{"values":[-20,-10,0,10,20],"labelExpr":"''+datum.value","grid":false,"domain":false,"tickColor":"#999","tickSize":-3,"labelPadding":6,"labelFontSize":11,"titleFontSize":11.4,"titleFontWeight":"normal","titlePadding":3,"labelColor":"#222","titleColor":"#222"}},
"y2":{"field":"l"},
"fill":{"field":"k","type":"nominal","legend":null,"scale":{"domain":[1,2,3,4,5,6,7,8,9,10,11,12],"range":["#ffffff","#ffffff","#eeeeee","#d0d0d0","#b0b0b0","#909090","#707070","#484848","#181818","#9a9a9a","#cfcfcf","#ffffff"]}}}},
{"width":113,"height":140,"data":{"values":[]},"mark":"point","encoding":{}},
{"width":260,"height":140,"view":{"stroke":"#999999","strokeWidth":1.3},"data":{"name":"contR"},"mark":{"type":"area","stroke":"#a0a0a0","strokeWidth":0.6,"interpolate":"monotone"},
"encoding":{"x":{"field":"t","type":"quantitative","title":"tiempo (t /T)","scale":{"domain":[-2,4],"nice":false,"zero":false},"axis":{"values":[-2,-1,0,1,2,3,4],"labelExpr":"''+datum.value","grid":false,"domain":false,"tickColor":"#999","tickSize":-3,"labelPadding":5,"labelFontSize":11,"titleFontSize":11,"titleFontWeight":"normal","titlePadding":0,"labelColor":"#222","titleColor":"#222"}},
"y":{"field":"h","type":"quantitative","title":"unidades ópticas (v)","scale":{"domain":[-25,25],"nice":false,"zero":false},"axis":{"values":[-20,-10,0,10,20],"labelExpr":"''+datum.value","grid":false,"domain":false,"tickColor":"#999","tickSize":-3,"labelPadding":6,"labelFontSize":11,"titleFontSize":11.4,"titleFontWeight":"normal","titlePadding":3,"labelColor":"#222","titleColor":"#222"}},
"y2":{"field":"l"},
"fill":{"field":"k","type":"nominal","legend":null,"scale":{"domain":[1,2,3,4,5,6,7,8,9,10,11,12],"range":["#ffffff","#ffffff","#eeeeee","#c8c8c8","#a8a8a8","#808080","#585858","#303030","#000000","#8a8a8a","#cccccc","#ffffff"]}}}}
],"spacing":0,"bounds":"flush"},
{"width":100,"height":42,"data":{"values":[]},"mark":"point","encoding":{},"title":{"text":"(c)","anchor":"start","frame":"group","dx":12,"offset":-36,"fontSize":30,"fontWeight":"normal"}},
{"hconcat":[
{"width":52,"height":141,"data":{"values":[]},"mark":"point","encoding":{}},
{"width":249,"height":141,
"encoding":{"x":{"field":"t","type":"quantitative","title":"tiempo (t/T)","scale":{"domain":[-2,4],"nice":false,"zero":false},"axis":{"values":[-2,-1,0,1,2,3,4],"labelExpr":"''+datum.value","grid":false,"domainColor":"#666","tickColor":"#666","tickSize":-2,"labelPadding":4.5,"labelFontSize":11,"titleFontSize":10.6,"titleFontWeight":"normal","titlePadding":0,"labelColor":"#222","titleColor":"#222"}},
"y":{"field":"i","type":"quantitative","title":"Intensidad","scale":{"domain":[0,1],"nice":false,"zero":false},"axis":{"values":[0,0.2,0.4,0.6,0.8,1],"format":"~g","grid":false,"domainColor":"#666","tickColor":"#666","tickSize":-2,"labelPadding":4,"labelFontSize":11,"titleFontSize":11,"titleFontWeight":"normal","titlePadding":1,"labelColor":"#222","titleColor":"#222"}}},
"layer":[
{"data":{"values":[{"t":-2,"i":0},{"t":-1.4,"i":0},{"t":-1.2,"i":0.003},{"t":-1.1,"i":0.007},{"t":-1,"i":0.016},{"t":-0.9,"i":0.034},{"t":-0.8,"i":0.066},{"t":-0.7,"i":0.121},{"t":-0.6,"i":0.205},{"t":-0.5,"i":0.321},{"t":-0.4,"i":0.468},{"t":-0.3,"i":0.631},{"t":-0.2,"i":0.791},{"t":-0.1,"i":0.919},{"t":0,"i":0.991},{"t":0.05,"i":1},{"t":0.1,"i":0.991},{"t":0.2,"i":0.919},{"t":0.3,"i":0.791},{"t":0.4,"i":0.631},{"t":0.5,"i":0.468},{"t":0.6,"i":0.321},{"t":0.7,"i":0.205},{"t":0.8,"i":0.121},{"t":0.9,"i":0.066},{"t":1,"i":0.034},{"t":1.1,"i":0.016},{"t":1.2,"i":0.007},{"t":1.3,"i":0.003},{"t":1.5,"i":0},{"t":4,"i":0}]},
"mark":{"type":"line","stroke":"#222222","strokeWidth":1}},
{"data":{"values":[{"t":-2,"i":0},{"t":-1.92,"i":0},{"t":-1.84,"i":0},{"t":-1.76,"i":0},{"t":-1.68,"i":0},{"t":-1.6,"i":0},{"t":-1.52,"i":0},{"t":-1.44,"i":0},{"t":-1.36,"i":0},{"t":-1.28,"i":0},{"t":-1.2,"i":0},{"t":-1.1,"i":0.003},{"t":-1.03,"i":0.008},{"t":-0.95,"i":0.015},{"t":-0.87,"i":0.03},{"t":-0.79,"i":0.06},{"t":-0.71,"i":0.09},{"t":-0.645,"i":0.14},{"t":-0.57,"i":0.2},{"t":-0.5,"i":0.28},{"t":-0.43,"i":0.38},{"t":-0.355,"i":0.49},{"t":-0.29,"i":0.61},{"t":-0.21,"i":0.725},{"t":-0.145,"i":0.835},{"t":-0.08,"i":0.93},{"t":0.055,"i":1},{"t":0.16,"i":0.98},{"t":0.28,"i":0.835},{"t":0.36,"i":0.725},{"t":0.43,"i":0.61},{"t":0.49,"i":0.49},{"t":0.565,"i":0.38},{"t":0.635,"i":0.28},{"t":0.7,"i":0.2},{"t":0.765,"i":0.14},{"t":0.845,"i":0.09},{"t":0.92,"i":0.055},{"t":1,"i":0.03},{"t":1.07,"i":0.015},{"t":1.15,"i":0.008},{"t":1.22,"i":0.003},{"t":1.3,"i":0},{"t":1.38,"i":0},{"t":1.46,"i":0},{"t":1.54,"i":0},{"t":1.62,"i":0},{"t":1.7,"i":0},{"t":1.78,"i":0},{"t":1.86,"i":0},{"t":1.94,"i":0},{"t":2.02,"i":0},{"t":2.1,"i":0},{"t":2.18,"i":0},{"t":2.26,"i":0},{"t":2.34,"i":0},{"t":2.42,"i":0},{"t":2.5,"i":0},{"t":2.58,"i":0},{"t":2.66,"i":0},{"t":2.74,"i":0},{"t":2.82,"i":0},{"t":2.9,"i":0},{"t":2.98,"i":0},{"t":3.06,"i":0},{"t":3.14,"i":0},{"t":3.22,"i":0},{"t":3.3,"i":0},{"t":3.38,"i":0},{"t":3.46,"i":0},{"t":3.54,"i":0},{"t":3.62,"i":0},{"t":3.7,"i":0},{"t":3.78,"i":0},{"t":3.86,"i":0},{"t":3.94,"i":0},{"t":4,"i":0}]},
"mark":{"type":"point","filled":false,"stroke":"#333333","strokeWidth":1,"size":121},
"encoding":{"shape":{"datum":"Pulso incidente","scale":{"domain":["Pulso en el foco","Pulso incidente"],"range":["M-1,0L1,0","M-0.25,0L0.25,0M0,-0.25L0,0.25M-0.18,-0.18L0.18,0.18M-0.18,0.18L0.18,-0.18"]},"legend":{"title":null,"orient":"none","legendX":216,"legendY":515,"strokeColor":"#aaaaaa","fillColor":"#ffffff","padding":3,"symbolSize":121,"symbolStrokeColor":"#222222","symbolStrokeWidth":1,"symbolFillColor":"#ffffff","labelFontSize":10.4,"labelColor":"#111","labelOffset":1,"rowPadding":2.5,"symbolOffset":0}}}}
]},
{"width":101,"height":141,"data":{"values":[]},"mark":"point","encoding":{}},
{"width":260,"height":141,
"encoding":{"x":{"field":"t","type":"quantitative","title":"tiempo (t/T)","scale":{"domain":[-2,4],"nice":false,"zero":false},"axis":{"values":[-2,-1,0,1,2,3,4],"labelExpr":"''+datum.value","grid":false,"domainColor":"#666","tickColor":"#666","tickSize":-2,"labelPadding":4.5,"labelFontSize":11,"titleFontSize":11,"titleFontWeight":"normal","titlePadding":0,"labelColor":"#222","titleColor":"#222"}},
"y":{"field":"i","type":"quantitative","title":"Intensidad","scale":{"domain":[0,1],"nice":false,"zero":false},"axis":{"values":[0,0.2,0.4,0.6,0.8,1],"format":"~g","grid":false,"domainColor":"#666","tickColor":"#666","tickSize":-2,"labelPadding":4,"labelFontSize":11,"titleFontSize":11,"titleFontWeight":"normal","titlePadding":1,"labelColor":"#222","titleColor":"#222"}}},
"layer":[
{"data":{"values":[{"t":-2,"i":0},{"t":-1.14,"i":0},{"t":-1,"i":0.01},{"t":-0.86,"i":0.03},{"t":-0.71,"i":0.09},{"t":-0.57,"i":0.19},{"t":-0.43,"i":0.33},{"t":-0.29,"i":0.5},{"t":-0.14,"i":0.67},{"t":0,"i":0.81},{"t":0.14,"i":0.95},{"t":0.28,"i":1},{"t":0.43,"i":0.95},{"t":0.57,"i":0.81},{"t":0.71,"i":0.6},{"t":0.86,"i":0.45},{"t":1,"i":0.31},{"t":1.14,"i":0.19},{"t":1.29,"i":0.11},{"t":1.43,"i":0.055},{"t":1.57,"i":0.025},{"t":1.71,"i":0.01},{"t":1.86,"i":0.002},{"t":2,"i":0},{"t":4,"i":0}]},
"mark":{"type":"line","stroke":"#222222","strokeWidth":1}},
{"data":{"values":[{"t":-2,"i":0},{"t":-1.857,"i":0},{"t":-1.714,"i":0},{"t":-1.571,"i":0},{"t":-1.429,"i":0},{"t":-1.286,"i":0},{"t":-1.143,"i":0.004},{"t":-1,"i":0.018},{"t":-0.857,"i":0.055},{"t":-0.714,"i":0.135},{"t":-0.571,"i":0.28},{"t":-0.429,"i":0.485},{"t":-0.286,"i":0.72},{"t":-0.143,"i":0.92},{"t":0,"i":1},{"t":0.143,"i":0.92},{"t":0.286,"i":0.72},{"t":0.429,"i":0.485},{"t":0.571,"i":0.28},{"t":0.714,"i":0.135},{"t":0.857,"i":0.055},{"t":1,"i":0.018},{"t":1.143,"i":0.004},{"t":1.286,"i":0},{"t":1.429,"i":0},{"t":1.571,"i":0},{"t":1.714,"i":0},{"t":1.857,"i":0},{"t":2,"i":0},{"t":2.143,"i":0},{"t":2.286,"i":0},{"t":2.429,"i":0},{"t":2.571,"i":0},{"t":2.714,"i":0},{"t":2.857,"i":0},{"t":3,"i":0},{"t":3.143,"i":0},{"t":3.286,"i":0},{"t":3.429,"i":0},{"t":3.571,"i":0},{"t":3.714,"i":0},{"t":3.857,"i":0},{"t":4,"i":0}]},
"mark":{"type":"point","filled":false,"stroke":"#333333","strokeWidth":1,"size":121,"shape":"M-0.25,0L0.25,0M0,-0.25L0,0.25M-0.18,-0.18L0.18,0.18M-0.18,0.18L0.18,-0.18"}},
{"data":{"values":[{"t":1.884,"t2":4,"i":0.993,"i2":0.993},{"t":1.884,"t2":4,"i":0.78,"i2":0.78},{"t":1.884,"t2":1.884,"i":0.993,"i2":0.78},{"t":3.99,"t2":3.99,"i":0.993,"i2":0.78}]},"mark":{"type":"rule","stroke":"#aaaaaa","strokeWidth":1},"encoding":{"x2":{"field":"t2"},"y2":{"field":"i2"}}},
{"data":{"values":[{"t":1.97,"t2":2.2,"i":0.929}]},"mark":{"type":"rule","stroke":"#222222","strokeWidth":1},"encoding":{"x2":{"field":"t2"}}},
{"data":{"values":[{"t":2.08,"i":0.83}]},"mark":{"type":"point","filled":false,"stroke":"#333333","strokeWidth":1,"size":121,"shape":"M-0.25,0L0.25,0M0,-0.25L0,0.25M-0.18,-0.18L0.18,0.18M-0.18,0.18L0.18,-0.18"}},
{"data":{"values":[{"t":2.22,"i":0.929,"label":"Pulso en el foco"},{"t":2.22,"i":0.83,"label":"Pulso incidente"}]},"mark":{"type":"text","fontSize":11,"align":"left","baseline":"middle"},"encoding":{"text":{"field":"label"}}}
]}
],"spacing":0,"bounds":"flush"}
],"spacing":0}
